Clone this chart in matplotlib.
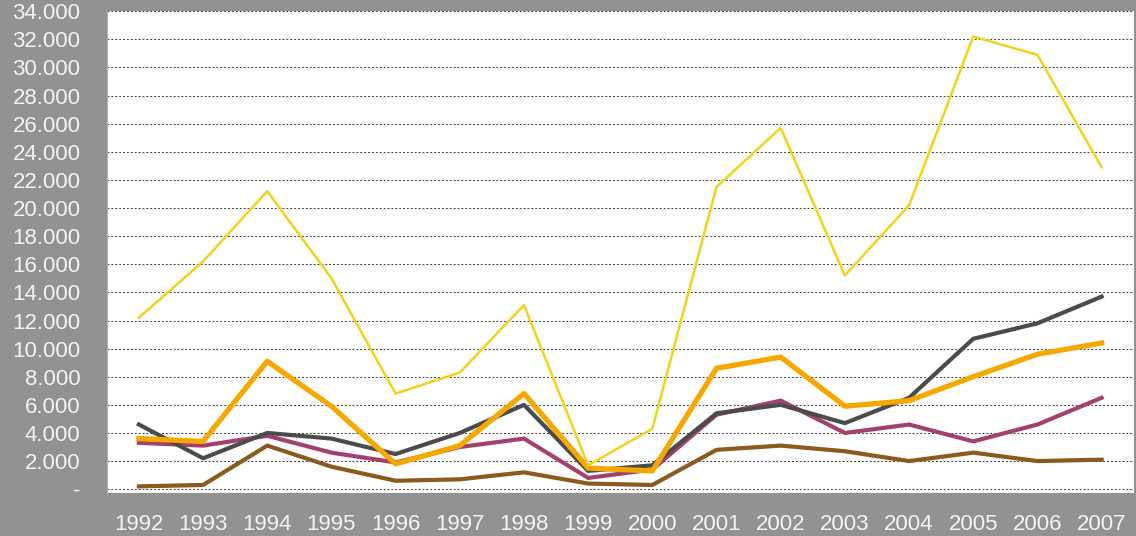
import matplotlib

matplotlib.use("Agg")
import matplotlib.pyplot as plt
from matplotlib.ticker import FuncFormatter

plt.rcParams["font.family"] = ["Liberation Sans", "DejaVu Sans"]

years = [str(y) for y in range(1992, 2008)]

# series values
yellow = [12200, 16200, 21200, 15000, 6800, 8300, 13100, 1700,
          4300, 21500, 25700, 15200, 20200, 32200, 30900, 22900]
gray = [4600, 2200, 4000, 3600, 2500, 4000, 6000, 1300,
        1700, 5400, 6000, 4700, 6500, 10700, 11800, 13700]
orange = [3600, 3400, 9100, 5900, 1800, 3100, 6800, 1500,
          1300, 8600, 9400, 5900, 6300, 8000, 9600, 10400]
magenta = [3300, 3100, 3800, 2600, 1900, 3000, 3600, 800,
           1400, 5300, 6300, 4000, 4600, 3400, 4600, 6500]
brown = [200, 300, 3100, 1600, 600, 700, 1200, 400,
         300, 2800, 3100, 2700, 2000, 2600, 2000, 2100]

y_ticks = list(range(0, 34001, 2000))

BG = "#929292"
LABEL = "#f4f4f4"


def fmt_thousands(v, _pos):
    if v == 0:
        return "-"
    return f"{int(v):,}".replace(",", ".")


fig = plt.figure(figsize=(11.36, 5.36), dpi=100, facecolor=BG)
ax = fig.add_axes([0.094, 0.080, 0.904, 0.899])
ax.set_facecolor("white")

x = range(len(years))
ax.plot(x, brown, color="#8a5a1e", lw=3.0, zorder=3)
ax.plot(x, magenta, color="#a3416e", lw=3.0, zorder=4)
ax.plot(x, gray, color="#4b4b4b", lw=3.0, zorder=5)
ax.plot(x, orange, color="#f5a800", lw=3.8, zorder=6)
ax.plot(x, yellow, color="#f2d21a", lw=1.8, zorder=7)

ax.set_xlim(-0.5, len(years) - 0.5)
ax.set_ylim(-280, 34000)
ax.set_xticks(list(x))
ax.set_xticklabels(years)
ax.set_yticks(y_ticks)
ax.yaxis.set_major_formatter(FuncFormatter(fmt_thousands))

ax.yaxis.grid(True, color="#3a3a3a", lw=0.7, ls=(0, (2, 2)), zorder=1)
ax.set_axisbelow(True)

for side in ["top", "right", "bottom"]:
    ax.spines[side].set_visible(False)
ax.spines["left"].set_color("#b0b0b0")
ax.spines["left"].set_linestyle((0, (1, 1)))
ax.spines["left"].set_linewidth(0.8)

ax.tick_params(axis="y", length=0, pad=19, labelsize=16, labelcolor=LABEL)
ax.tick_params(axis="x", length=0, pad=15, labelsize=16, labelcolor=LABEL)

fig.savefig("out.png", dpi=100, facecolor=BG)
plt.close(fig)
